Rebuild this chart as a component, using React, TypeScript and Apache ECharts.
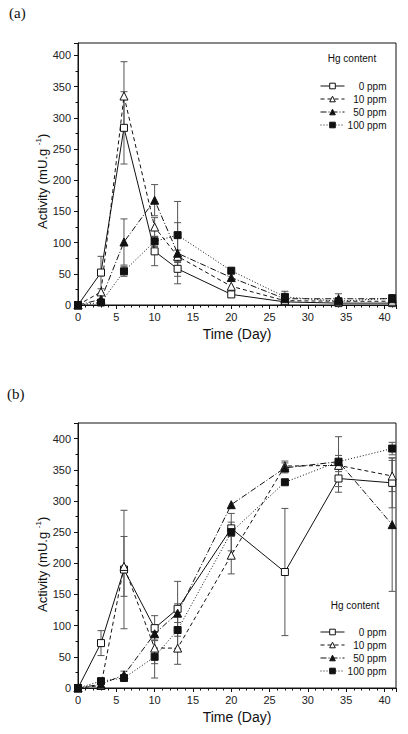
import React, { useEffect, useRef } from "react";
import * as echarts from "echarts";

const days = [0, 3, 6, 10, 13, 20, 27, 34, 41];
const seriesNames = ["0 ppm", "10 ppm", "50 ppm", "100 ppm"];

// Panel (a)
const a0 = [0, 52, 284, 86, 58, 17, 5, 3, 3];
const a10 = [0, 21, 335, 125, 78, 30, 7, 6, 6];
const a50 = [0, 9, 101, 168, 83, 44, 10, 10, 10];
const a100 = [0, 4, 54, 102, 112, 55, 13, 6, 11];
const ea0 = [0, 26, 58, 23, 12, 0, 0, 0, 0];
const ea10 = [0, 0, 55, 15, 10, 0, 0, 0, 0];
const ea50 = [0, 0, 37, 25, 49, 0, 5, 8, 0];
const ea100 = [0, 0, 8, 8, 54, 0, 9, 0, 0];

// Panel (b)
const b0 = [0, 72, 190, 96, 127, 256, 186, 336, 329];
const b10 = [0, 4, 195, 64, 64, 213, 356, 357, 340];
const b50 = [0, 6, 21, 87, 120, 294, 353, 363, 262];
const b100 = [0, 11, 16, 50, 93, 250, 330, 363, 384];
const eb0 = [0, 20, 95, 20, 44, 10, 102, 22, 40];
const eb10 = [0, 0, 48, 25, 26, 30, 8, 10, 25];
const eb50 = [0, 0, 6, 10, 15, 0, 8, 10, 107];
const eb100 = [0, 0, 0, 34, 30, 30, 0, 40, 10];

const xTickStep = 5;
const yTickStep = 50;

const FONT = "Liberation Sans, Arial, sans-serif";
const INK = "#111";

const styles = [
  { symbol: "rect", size: 7, fill: "#fff", dash: "solid" as any },
  { symbol: "triangle", size: 8, fill: "#fff", dash: [4, 3] },
  { symbol: "triangle", size: 8, fill: INK, dash: [6, 2, 1, 2] },
  { symbol: "rect", size: 7, fill: INK, dash: [1, 2] },
];

function lineSeries(vals: number[], i: number, axis: number) {
  const s = styles[i];
  return {
    type: "line",
    name: seriesNames[i],
    xAxisIndex: axis,
    yAxisIndex: axis,
    data: days.map((d, k) => [d, vals[k]]),
    symbol: s.symbol,
    symbolSize: s.size,
    showAllSymbol: true,
    lineStyle: { color: INK, width: 1, type: s.dash },
    itemStyle: { color: s.fill, borderColor: INK, borderWidth: 1 },
    z: 3,
  };
}

function errSeries(vals: number[], errs: number[], axis: number) {
  return {
    type: "custom",
    xAxisIndex: axis,
    yAxisIndex: axis,
    silent: true,
    z: 2,
    encode: { x: 0, y: 1 },
    data: days.map((d, k) => [d, vals[k], errs[k]]),
    renderItem: (params: any, api: any) => {
      const x = api.value(0);
      const y = api.value(1);
      const e = api.value(2);
      if (!e) return { type: "group", children: [] };
      const lo = api.coord([x, y - e]);
      const hi = api.coord([x, y + e]);
      const w = 3.5;
      const st = { stroke: "#555", lineWidth: 1 };
      return {
        type: "group",
        children: [
          { type: "line", shape: { x1: lo[0], y1: lo[1], x2: hi[0], y2: hi[1] }, style: st },
          { type: "line", shape: { x1: lo[0] - w, y1: lo[1], x2: lo[0] + w, y2: lo[1] }, style: st },
          { type: "line", shape: { x1: hi[0] - w, y1: hi[1], x2: hi[0] + w, y2: hi[1] }, style: st },
        ],
      };
    },
  };
}

function xAxis(idx: number) {
  return {
    type: "value",
    gridIndex: idx,
    min: 0,
    max: 41.5,
    interval: xTickStep,
    name: "Time (Day)",
    nameLocation: "middle",
    nameGap: 22,
    nameTextStyle: { fontSize: 14, color: INK, fontFamily: FONT },
    axisLine: { lineStyle: { color: INK, width: 1 } },
    axisTick: { length: 4, lineStyle: { color: INK } },
    minorTick: { show: true, splitNumber: 5, length: 2.5, lineStyle: { color: INK } },
    splitLine: { show: false },
    axisLabel: {
      fontSize: 11,
      color: "#222",
      fontFamily: FONT,
      margin: 6,
      formatter: (v: number) => (v % xTickStep === 0 ? String(v) : ""),
    },
  };
}

function yAxis(idx: number, max: number) {
  return {
    type: "value",
    gridIndex: idx,
    min: 0,
    max,
    interval: yTickStep,
    axisLine: { show: true, lineStyle: { color: INK, width: 1 } },
    axisTick: { show: true, length: 4, lineStyle: { color: INK } },
    minorTick: { show: true, splitNumber: 2, length: 2.5, lineStyle: { color: INK } },
    splitLine: { show: false },
    axisLabel: {
      fontSize: 11,
      color: "#222",
      fontFamily: FONT,
      margin: 7,
      formatter: (v: number) => (v % yTickStep === 0 ? String(v) : ""),
    },
  };
}

function legend(top: number) {
  return {
    orient: "vertical",
    left: 320,
    top,
    padding: 0,
    itemWidth: 24,
    itemHeight: 7,
    itemGap: 1,
    selectedMode: false,
    data: seriesNames,
    lineStyle: { width: 1, color: INK },
    itemStyle: { borderWidth: 1, borderColor: INK },
    formatter: (n: string) => "{r|" + n + "}",
    textStyle: {
      fontSize: 10,
      color: INK,
      fontFamily: FONT,
      lineHeight: 12,
      rich: { r: { width: 37, align: "right", fontSize: 10, fontFamily: FONT, color: INK, lineHeight: 12 } },
    },
  };
}

function yTitle(x: number, y: number) {
  return {
    type: "text",
    x,
    y,
    rotation: Math.PI / 2,
    silent: true,
    style: {
      text: "{a|Activity (mU.g }{s|-1}{a|)}",
      align: "left",
      verticalAlign: "middle",
      rich: {
        a: { fontSize: 13, fontFamily: FONT, fill: INK, lineHeight: 16 },
        s: { fontSize: 8, fontFamily: FONT, fill: INK, lineHeight: 16, verticalAlign: "top" },
      },
    },
  };
}

function plainText(text: string, x: number, y: number, size: number, family: string, align = "left") {
  return {
    type: "text",
    x,
    y,
    silent: true,
    style: { text, fontSize: size, fontFamily: family, fill: INK, align, verticalAlign: "middle" },
  };
}

export default function App() {
  const ref = useRef<HTMLDivElement>(null);
  useEffect(() => {
    if (!ref.current) return;
    const chart = echarts.init(ref.current, null, { renderer: "svg" });
    const option: any = {
      animation: false,
      backgroundColor: "#fff",
      grid: [
        { left: 78, top: 43, width: 318, height: 262, show: true, borderColor: INK, borderWidth: 1, backgroundColor: "transparent" },
        { left: 78, top: 423, width: 318, height: 265, show: true, borderColor: INK, borderWidth: 1, backgroundColor: "transparent" },
      ],
      xAxis: [xAxis(0), xAxis(1)],
      yAxis: [yAxis(0, 420), yAxis(1, 425)],
      legend: [legend(80), legend(626)],
      graphic: [
        plainText("(a)", 9, 13, 15, "Liberation Serif, Times New Roman, serif"),
        plainText("(b)", 7, 394, 15, "Liberation Serif, Times New Roman, serif"),
        plainText("Hg content", 352, 58, 10, FONT, "center"),
        plainText("Hg content", 355, 605, 10, FONT, "center"),
        yTitle(42, 229),
        yTitle(42, 612),
      ],
      series: [
        errSeries(a0, ea0, 0),
        errSeries(a10, ea10, 0),
        errSeries(a50, ea50, 0),
        errSeries(a100, ea100, 0),
        errSeries(b0, eb0, 1),
        errSeries(b10, eb10, 1),
        errSeries(b50, eb50, 1),
        errSeries(b100, eb100, 1),
        lineSeries(a0, 0, 0),
        lineSeries(a10, 1, 0),
        lineSeries(a50, 2, 0),
        lineSeries(a100, 3, 0),
        lineSeries(b0, 0, 1),
        lineSeries(b10, 1, 1),
        lineSeries(b50, 2, 1),
        lineSeries(b100, 3, 1),
      ],
    };
    chart.setOption(option);
    return () => chart.dispose();
  }, []);
  return (
    <div
      ref={ref}
      style={{ position: "fixed", left: 0, top: 0, width: 408, height: 734, background: "#fff" }}
    />
  );
}
